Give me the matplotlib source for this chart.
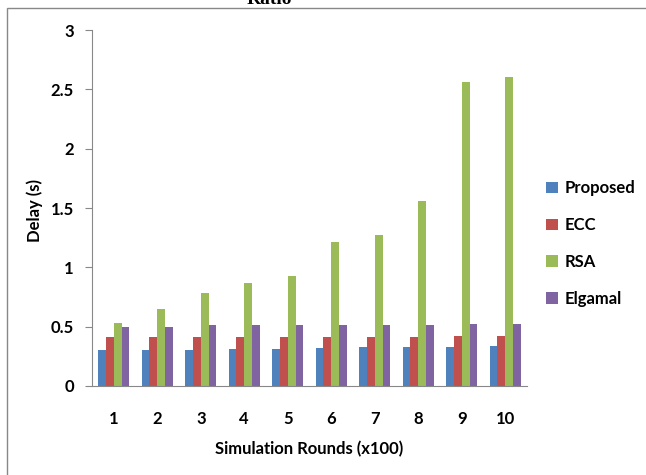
import matplotlib.pyplot as plt
import numpy as np
from matplotlib.patches import Rectangle

rounds = ["1", "2", "3", "4", "5", "6", "7", "8", "9", "10"]
proposed = [0.30, 0.30, 0.30, 0.31, 0.31, 0.32, 0.33, 0.33, 0.33, 0.34]
ecc = [0.41, 0.41, 0.41, 0.41, 0.41, 0.41, 0.41, 0.41, 0.42, 0.42]
rsa = [0.53, 0.65, 0.78, 0.87, 0.93, 1.21, 1.27, 1.56, 2.56, 2.60]
elgamal = [0.50, 0.50, 0.51, 0.51, 0.51, 0.51, 0.51, 0.51, 0.52, 0.52]

series = [("Proposed", proposed, "#4F81BD"),
          ("ECC", ecc, "#C0504D"),
          ("RSA", rsa, "#9BBB59"),
          ("Elgamal", elgamal, "#8064A2")]

plt.rcParams['font.family'] = ['Lato', 'DejaVu Sans']

fig = plt.figure(figsize=(6.46, 4.75), dpi=100)
ax = fig.add_axes([0.1424, 0.1874, 0.6734, 0.7494])

x = np.arange(len(rounds))
w = 0.18
for i, (name, vals, col) in enumerate(series):
    ax.bar(x + (i - 1.5) * w, vals, w, color=col, label=name, linewidth=0)

ax.set_xlim(-0.5, len(rounds) - 0.5)
ax.set_ylim(0, 3)
ax.set_yticks([0, 0.5, 1, 1.5, 2, 2.5, 3])
ax.set_yticklabels(["0", "0.5", "1", "1.5", "2", "2.5", "3"])
ax.set_xticks(x)
ax.set_xticklabels(rounds)
ax.tick_params(axis='y', length=5, color="#888888", labelsize=12, pad=8)
ax.tick_params(axis='x', length=0, labelsize=12, pad=18)
for lbl in ax.get_xticklabels() + ax.get_yticklabels():
    lbl.set_fontweight("bold")
for s in ["top", "right"]:
    ax.spines[s].set_visible(False)
for s in ["left", "bottom"]:
    ax.spines[s].set_color("#888888")

ax.set_xlabel("Simulation Rounds (x100)", fontsize=12, fontweight="bold", labelpad=10)
fig.text(35 / 646, 1 - 210 / 475, "Delay (s)", rotation=90, fontsize=12,
         fontweight="bold", ha="center", va="center")

leg = ax.legend(loc="center left", bbox_to_anchor=(1.01, 0.40), frameon=False,
                prop={"size": 12, "weight": "bold"}, labelspacing=1.25,
                handlelength=0.7, handleheight=0.7, handletextpad=0.4)

# outer frame and clipped title
fig.patches.append(Rectangle((7 / 646, -0.1), 1.2, 1 - 8 / 475 + 0.1,
                             transform=fig.transFigure, fill=False,
                             edgecolor="#888888", linewidth=1))
fig.text(269 / 646, 1 - 4 / 475, "Ratio", fontsize=14, fontweight="bold",
         family="Liberation Serif", ha="center", va="baseline")

fig.savefig("out.png", dpi=100)
